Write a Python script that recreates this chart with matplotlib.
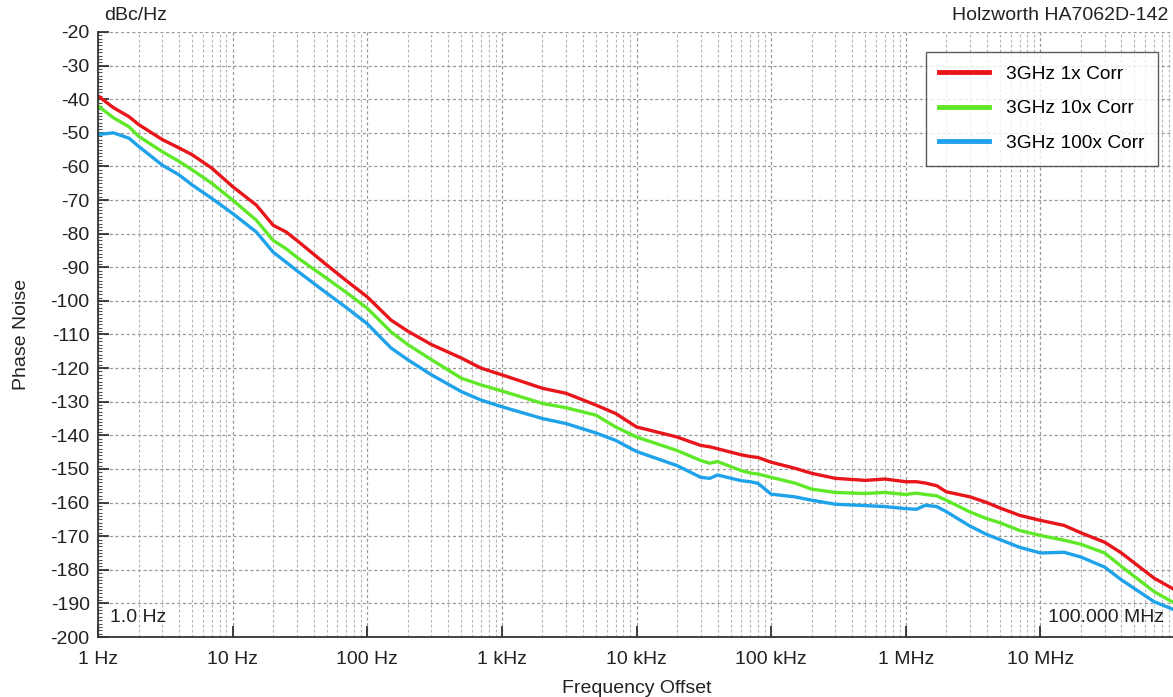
import numpy as np
import matplotlib
matplotlib.use("Agg")
import matplotlib.pyplot as plt
from matplotlib.ticker import FixedLocator, MultipleLocator, NullFormatter

plt.rcParams['font.family'] = ['Liberation Sans', 'DejaVu Sans']
plt.rcParams['axes.unicode_minus'] = False

# offset frequency (Hz)
freq = [1, 1.3, 1.7, 2, 3, 4, 5, 7, 10, 15, 20, 25, 30, 50, 70,
        100, 150, 200, 300, 500, 700, 1e3, 2e3, 3e3, 5e3, 7e3,
        1e4, 2e4, 3e4, 3.5e4, 4e4, 6e4, 7e4, 8e4, 1e5, 1.5e5, 2e5, 3e5,
        5e5, 7e5, 1e6, 1.2e6, 1.4e6, 1.7e6, 2e6, 3e6, 4e6, 5e6, 7e6,
        1e7, 1.5e7, 2e7, 3e7, 4e7, 5e7, 7e7, 1e8]

# phase noise (dBc/Hz)
corr_1x = [-39, -42.5, -45.2, -47.5, -52, -54.5, -56.5, -60.5, -66, -71.5,
           -77.5, -79.5, -82, -89.3, -94, -98.8, -105.7, -109, -113, -117,
           -120, -122, -126, -127.5, -131, -133.5, -137.5, -140.5, -143, -143.4,
           -144, -145.8, -146.3, -146.6, -148, -149.8, -151.3, -152.8, -153.4,
           -153.0, -153.8, -153.8, -154.2, -155, -156.8, -158.3, -160, -161.6,
           -163.8, -165.3, -166.8, -169, -171.8, -175, -178, -182.5, -186]
corr_10x = [-42, -45.5, -48.2, -51, -55.6, -58.5, -61, -65, -70, -76,
            -82, -84.5, -87, -93.3, -97.5, -102.2, -109.2, -113, -117.5, -123,
            -125, -126.8, -130.5, -131.8, -134, -137.5, -140.5, -144.5, -147.5,
            -148.3, -147.8, -150.5, -151.2, -151.5, -152.5, -154.2, -156, -157,
            -157.3, -157.0, -157.6, -157.2, -157.6, -158, -159.3, -162.8, -164.8,
            -166, -168.3, -169.8, -171.2, -172.4, -175, -179, -182, -186.5, -190]
corr_100x = [-50.5, -50, -51.6, -54, -59.6, -62.5, -65.5, -69.5, -74, -79.5,
             -85.5, -88.5, -91, -97.7, -102, -106.8, -114, -117.5, -122, -127,
             -129.5, -131.5, -135, -136.5, -139.3, -141.5, -144.8, -149, -152.5,
             -152.8, -151.8, -153.5, -153.8, -154.3, -157.5, -158.3, -159.3,
             -160.5, -160.9, -161.2, -161.8, -162, -160.8, -161.2, -162.7, -167,
             -169.5, -171, -173.3, -175, -174.8, -176.2, -179.2, -183, -185.6,
             -189.5, -192]

series = [("3GHz 1x Corr", corr_1x, "#e8161b"),
          ("3GHz 10x Corr", corr_10x, "#5fe828"),
          ("3GHz 100x Corr", corr_100x, "#1ea2ea")]

fig = plt.figure(figsize=(11.73, 6.97), dpi=100)
ax = fig.add_axes([98 / 1173, 60 / 697, 1077 / 1173, 605 / 697])

for name, vals, col in series:
    ax.plot(freq, vals, color=col, lw=2.4, label=name, solid_joinstyle="round")

ax.set_xscale("log")
ax.set_xlim(1, 1e8)
ax.set_ylim(-200, -20)

ax.yaxis.set_major_locator(MultipleLocator(10))
ax.yaxis.set_minor_locator(MultipleLocator(1))
ax.tick_params(axis="y", which="major", direction="in", length=8, width=1.2,
               labelsize=14, pad=6, colors="#222222")
ax.tick_params(axis="y", which="minor", direction="in", length=3, width=0.8,
               color="#555555")

decades = [1, 10, 100, 1e3, 1e4, 1e5, 1e6, 1e7, 1e8]
ax.xaxis.set_major_locator(FixedLocator(decades))
ax.set_xticklabels(["1 Hz", "10 Hz", "100 Hz", "1 kHz", "10 kHz",
                    "100 kHz", "1 MHz", "10 MHz", ""])
minors = [m * d for d in decades[:-1] for m in range(2, 10)]
ax.xaxis.set_minor_locator(FixedLocator(minors))
ax.xaxis.set_minor_formatter(NullFormatter())
ax.tick_params(axis="x", which="major", direction="in", length=8, width=1.2,
               labelsize=14, pad=10, colors="#222222")
ax.tick_params(axis="x", which="minor", length=0)

ax.grid(True, which="major", axis="both", color="#9a9a9a", lw=0.9,
        linestyle=(0, (2.5, 2)))
ax.grid(True, which="minor", axis="x", color="#b4b4b4", lw=0.8,
        linestyle=(0, (2.5, 2)))

for s in ["top", "right"]:
    ax.spines[s].set_visible(False)
for s in ["left", "bottom"]:
    ax.spines[s].set_color("#333333")
    ax.spines[s].set_linewidth(1.3)

ax.set_xlabel("Frequency Offset", fontsize=14, labelpad=9, color="#222222")
ax.set_ylabel("Phase Noise", fontsize=14, labelpad=15, color="#222222")

fig.text(104 / 1173, 1 - 15 / 697, "dBc/Hz", fontsize=14, va="center",
         ha="left", color="#222222")
fig.text(1168 / 1173, 1 - 15 / 697, "Holzworth HA7062D-142", fontsize=14,
         va="center", ha="right", color="#222222")
ax.text(0.011, 0.032, "1.0 Hz", transform=ax.transAxes, fontsize=14,
        ha="left", va="center", color="#222222")
ax.text(0.99, 0.032, "100.000 MHz", transform=ax.transAxes, fontsize=14,
        ha="right", va="center", color="#222222")

leg = ax.legend(loc="upper right", bbox_to_anchor=(1060 / 1077, 0.967),
                fontsize=13.8, frameon=True, fancybox=False, handlelength=2.6,
                handletextpad=0.9, borderpad=0.7, labelspacing=0.9,
                borderaxespad=0)
leg.get_frame().set_edgecolor("#333333")
leg.get_frame().set_linewidth(1.0)
for line in leg.get_lines():
    line.set_linewidth(3.5)

fig.savefig("out.png", dpi=100)
